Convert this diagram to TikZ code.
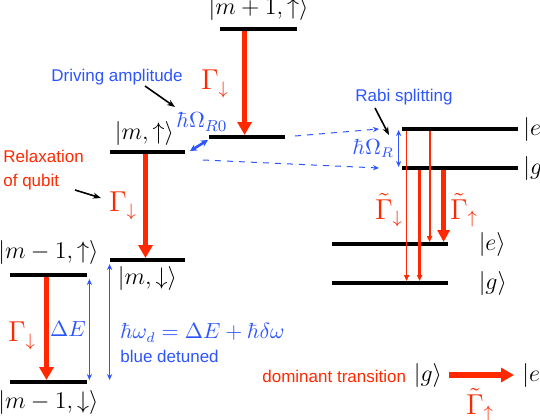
\documentclass[tikz,border=0pt]{standalone}
\usepackage{fontspec}
\newfontfamily\lblfont{Liberation Sans}
\usetikzlibrary{arrows.meta, positioning, calc}
\definecolor{gammared}{RGB}{255, 40, 0}
\definecolor{driveblue}{RGB}{45, 85, 255}

\begin{document}
\begin{tikzpicture}[
    x=0.5pt, y=-0.5pt,
    level/.style={fill=black, inner sep=0pt, minimum height=1.6pt},
    ket/.style={font=\fontsize{11.5}{13}\selectfont, inner sep=1pt},
    rate/.style={text=gammared, font=\fontsize{13.5}{15}\selectfont, inner sep=1pt},
    bluemath/.style={text=driveblue, font=\fontsize{10.6}{12}\selectfont, inner sep=0pt},
    note/.style={font=\lblfont\fontsize{8.5}{12}\selectfont, inner sep=0pt, align=left},
    decay/.style={gammared, line width=2.6pt, -{Triangle[length=6.5pt, width=7pt]}},
    thindecay/.style={gammared, line width=0.6pt, -{Triangle[length=3pt, width=2.6pt]}},
    gap/.style={driveblue, line width=0.6pt, {Stealth[length=3pt, width=2.6pt]}-{Stealth[length=3pt, width=2.6pt]}},
    pointer/.style={black, line width=0.8pt, -{Stealth[length=4pt, width=3pt]}},
    dashlink/.style={driveblue, dashed, line width=0.5pt, -{Stealth[length=3pt, width=2.6pt]}}
]
\clip (0,0) rectangle (540,419);
\useasboundingbox (0,0) rectangle (540,419);

% Bare levels
\node[level, minimum width=38.5pt] (mp1) at (258.5,29) {};
\node[level, minimum width=38pt] (muR) at (247,137) {};
\node[level, minimum width=37.5pt] (muL) at (147.5,152) {};
\node[level, minimum width=37.5pt] (mdn) at (147.5,260) {};
\node[level, minimum width=38.5pt] (m1u) at (48.5,275) {};
\node[level, minimum width=38.5pt] (m1d) at (48.5,382) {};

% Dressed levels
\node[level, minimum width=58pt] (dre) at (460,129) {};
\node[level, minimum width=58pt] (drg) at (460,168) {};
\node[level, minimum width=58pt] (bre) at (390,244) {};
\node[level, minimum width=58pt] (brg) at (390,283) {};

% Kets
\node[ket, above=2pt of mp1] (kmp1) {$|m+1,\uparrow\rangle$};
\node[ket, above=1pt of muL, xshift=-1.5pt] (kmuL) {$|m,\uparrow\rangle$};
\node[ket, below=1pt of mdn] (kmdn) {$|m,\downarrow\rangle$};
\node[ket, above=3pt of m1u] (km1u) {$|m-1,\uparrow\rangle$};
\node[ket, below=2pt of m1d] (km1d) {$|m-1,\downarrow\rangle$};
\node[ket, anchor=west] (kdre) at (521,129) {$|e\rangle$};
\node[ket, anchor=west] (kdrg) at (521,168) {$|g\rangle$};
\node[ket, right=14pt of bre] (kbre) {$|e\rangle$};
\node[ket, right=14pt of brg] (kbrg) {$|g\rangle$};

% Relaxation of the bare qubit
\draw[decay] ($(mp1.south west)+(25,0)$) -- ($(muR.north west)+(36,0)$);
\draw[decay] ($(muL.south)+(-2,0)$) -- ($(mdn.north)+(-2,0)$);
\draw[decay] ($(m1u.south)+(-2,0)$) -- ($(m1d.north)+(-2,0)$);
\node[rate] (g1) at (215,84) {$\Gamma_{\downarrow}$};
\node[rate] (g2) at (123,206) {$\Gamma_{\downarrow}$};
\node[rate] (g3) at (22,336) {$\Gamma_{\downarrow}$};

% Energy gaps
\draw[gap] ($(m1u.south east)+(2,2)$) -- ($(m1d.north east)+(2,0)$)
    node[midway, left=1.5pt, bluemath] {$\Delta E$};
\draw[gap] ($(mdn.south west)+(0,2)$) -- (mdn.south west |- m1d.north);
\node[bluemath, anchor=west] (wd) at (120,333) {$\hbar\omega_d=\Delta E+\hbar\delta\omega$};
\node[note, anchor=west, text=driveblue] (detuned) at (120,356) {blue detuned};

% Driving amplitude
\coordinate (omA) at (190,151);
\coordinate (omB) at (208,140);
\draw[driveblue, line width=1.3pt, {Stealth[length=3.5pt, width=3.5pt]}-{Stealth[length=3.5pt, width=3.5pt]}] (omA) -- (omB);
\node[bluemath, font=\fontsize{11}{13}\selectfont] (omR0) at (202,122) {$\hbar\Omega_{R0}$};
\node[note, text=driveblue] (drive) at (117,77) {Driving amplitude};
\draw[pointer] (145,86) -- (175,107);

% Relaxation of qubit
\node[note, anchor=west, text=gammared] (relax) at (3,170) {Relaxation\\of qubit};
\draw[pointer] (75,190) -- (101,198);

% Dressing
\draw[dashlink] (295,136) -- (379,129);
\draw[dashlink] (203,160) -- (379,168);
\node[note, text=driveblue] (rabi) at (404,97) {Rabi splitting};
\draw[pointer] (375,108) -- (389,135);
\draw[gap] ($(dre.west)+(-3,1)$) -- ($(drg.west)+(-3,-1)$)
    node[midway, left=2pt, bluemath] {$\hbar\Omega_R$};

% Transitions between dressed levels
\draw[thindecay, line width=0.5pt] ($(dre.south west)+(5,0)$) -- ($(brg.north west)+(75,0)$);
\draw[thindecay, line width=0.9pt] ($(dre.south west)+(28,0)$) -- ($(bre.north west)+(98,0)$);
\draw[thindecay, line width=1.2pt] ($(drg.south west)+(18,0)$) -- ($(brg.north west)+(88,0)$);
\draw[decay, -{Triangle[length=6pt, width=6pt]}] ($(drg.south west)+(42,0)$) -- ($(bre.north west)+(112,0)$);
\node[rate] (gtd) at (389,210) {$\tilde\Gamma_{\downarrow}$};
\node[rate] (gtu) at (464,210) {$\tilde\Gamma_{\uparrow}$};

% Dominant transition
\node[note, anchor=west, text=gammared] (dominant) at (262,376) {dominant transition};
\node[ket] (kg) at (428,375) {$|g\rangle$};
\node[ket, anchor=west] (ke) at (520,375) {$|e\rangle$};
\draw[decay] (kg.east) ++(5,0) coordinate (domA) -- (514,375) coordinate (domB);
\node[rate] (gdom) at (480,405) {$\tilde\Gamma_{\uparrow}$};

\end{tikzpicture}
\end{document}
